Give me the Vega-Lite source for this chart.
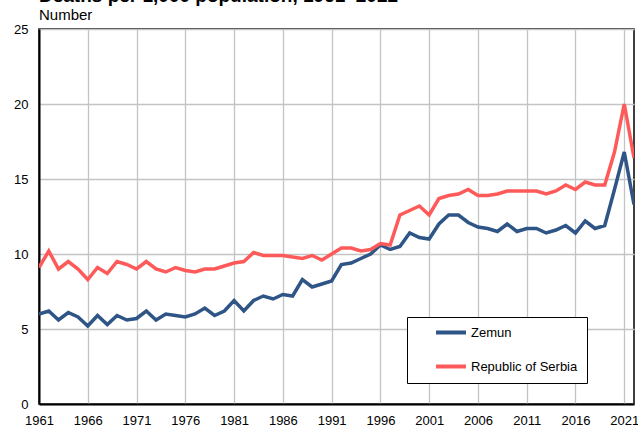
{
  "$schema": "https://vega.github.io/schema/vega-lite/v6.json",
  "width": 595,
  "height": 375,
  "autosize": {"type": "none"},
  "padding": {"left": 39, "top": 29, "right": 4, "bottom": 24},
  "title": {
    "text": "Deaths per 1,000 population, 1961–2022",
    "subtitle": "Number",
    "anchor": "start",
    "frame": "group",
    "offset": 0,
    "font": "Liberation Sans",
    "fontSize": 19,
    "fontWeight": "bold",
    "color": "#000000",
    "subtitleFont": "Liberation Sans",
    "subtitleFontSize": 15,
    "subtitleColor": "#000000",
    "subtitlePadding": 2
  },
  "config": {
    "font": "Liberation Sans",
    "view": {"stroke": "#000000", "strokeWidth": 1.5},
    "axis": {
      "labelFont": "Liberation Sans",
      "labelFontSize": 13,
      "labelColor": "#000000",
      "gridColor": "#c4c4c4",
      "gridWidth": 1.3,
      "gridOpacity": 1,
      "ticks": false,
      "domainColor": "#000000",
      "domainWidth": 2
    }
  },
  "data": {
    "values": [
      {"year": 1961, "series": "Zemun", "value": 6.0},
      {"year": 1962, "series": "Zemun", "value": 6.2},
      {"year": 1963, "series": "Zemun", "value": 5.6},
      {"year": 1964, "series": "Zemun", "value": 6.1},
      {"year": 1965, "series": "Zemun", "value": 5.8},
      {"year": 1966, "series": "Zemun", "value": 5.2},
      {"year": 1967, "series": "Zemun", "value": 5.9},
      {"year": 1968, "series": "Zemun", "value": 5.3},
      {"year": 1969, "series": "Zemun", "value": 5.9},
      {"year": 1970, "series": "Zemun", "value": 5.6},
      {"year": 1971, "series": "Zemun", "value": 5.7},
      {"year": 1972, "series": "Zemun", "value": 6.2},
      {"year": 1973, "series": "Zemun", "value": 5.6},
      {"year": 1974, "series": "Zemun", "value": 6.0},
      {"year": 1975, "series": "Zemun", "value": 5.9},
      {"year": 1976, "series": "Zemun", "value": 5.8},
      {"year": 1977, "series": "Zemun", "value": 6.0},
      {"year": 1978, "series": "Zemun", "value": 6.4},
      {"year": 1979, "series": "Zemun", "value": 5.9},
      {"year": 1980, "series": "Zemun", "value": 6.2},
      {"year": 1981, "series": "Zemun", "value": 6.9},
      {"year": 1982, "series": "Zemun", "value": 6.2},
      {"year": 1983, "series": "Zemun", "value": 6.9},
      {"year": 1984, "series": "Zemun", "value": 7.2},
      {"year": 1985, "series": "Zemun", "value": 7.0},
      {"year": 1986, "series": "Zemun", "value": 7.3},
      {"year": 1987, "series": "Zemun", "value": 7.2},
      {"year": 1988, "series": "Zemun", "value": 8.3},
      {"year": 1989, "series": "Zemun", "value": 7.8},
      {"year": 1990, "series": "Zemun", "value": 8.0},
      {"year": 1991, "series": "Zemun", "value": 8.2},
      {"year": 1992, "series": "Zemun", "value": 9.3},
      {"year": 1993, "series": "Zemun", "value": 9.4},
      {"year": 1994, "series": "Zemun", "value": 9.7},
      {"year": 1995, "series": "Zemun", "value": 10.0},
      {"year": 1996, "series": "Zemun", "value": 10.6},
      {"year": 1997, "series": "Zemun", "value": 10.3},
      {"year": 1998, "series": "Zemun", "value": 10.5},
      {"year": 1999, "series": "Zemun", "value": 11.4},
      {"year": 2000, "series": "Zemun", "value": 11.1},
      {"year": 2001, "series": "Zemun", "value": 11.0},
      {"year": 2002, "series": "Zemun", "value": 12.0},
      {"year": 2003, "series": "Zemun", "value": 12.6},
      {"year": 2004, "series": "Zemun", "value": 12.6},
      {"year": 2005, "series": "Zemun", "value": 12.1},
      {"year": 2006, "series": "Zemun", "value": 11.8},
      {"year": 2007, "series": "Zemun", "value": 11.7},
      {"year": 2008, "series": "Zemun", "value": 11.5},
      {"year": 2009, "series": "Zemun", "value": 12.0},
      {"year": 2010, "series": "Zemun", "value": 11.5},
      {"year": 2011, "series": "Zemun", "value": 11.7},
      {"year": 2012, "series": "Zemun", "value": 11.7},
      {"year": 2013, "series": "Zemun", "value": 11.4},
      {"year": 2014, "series": "Zemun", "value": 11.6},
      {"year": 2015, "series": "Zemun", "value": 11.9},
      {"year": 2016, "series": "Zemun", "value": 11.4},
      {"year": 2017, "series": "Zemun", "value": 12.2},
      {"year": 2018, "series": "Zemun", "value": 11.7},
      {"year": 2019, "series": "Zemun", "value": 11.9},
      {"year": 2020, "series": "Zemun", "value": 14.3},
      {"year": 2021, "series": "Zemun", "value": 16.8},
      {"year": 2022, "series": "Zemun", "value": 13.3},
      {"year": 1961, "series": "Republic of Serbia", "value": 9.1},
      {"year": 1962, "series": "Republic of Serbia", "value": 10.2},
      {"year": 1963, "series": "Republic of Serbia", "value": 9.0},
      {"year": 1964, "series": "Republic of Serbia", "value": 9.5},
      {"year": 1965, "series": "Republic of Serbia", "value": 9.0},
      {"year": 1966, "series": "Republic of Serbia", "value": 8.3},
      {"year": 1967, "series": "Republic of Serbia", "value": 9.1},
      {"year": 1968, "series": "Republic of Serbia", "value": 8.7},
      {"year": 1969, "series": "Republic of Serbia", "value": 9.5},
      {"year": 1970, "series": "Republic of Serbia", "value": 9.3},
      {"year": 1971, "series": "Republic of Serbia", "value": 9.0},
      {"year": 1972, "series": "Republic of Serbia", "value": 9.5},
      {"year": 1973, "series": "Republic of Serbia", "value": 9.0},
      {"year": 1974, "series": "Republic of Serbia", "value": 8.8},
      {"year": 1975, "series": "Republic of Serbia", "value": 9.1},
      {"year": 1976, "series": "Republic of Serbia", "value": 8.9},
      {"year": 1977, "series": "Republic of Serbia", "value": 8.8},
      {"year": 1978, "series": "Republic of Serbia", "value": 9.0},
      {"year": 1979, "series": "Republic of Serbia", "value": 9.0},
      {"year": 1980, "series": "Republic of Serbia", "value": 9.2},
      {"year": 1981, "series": "Republic of Serbia", "value": 9.4},
      {"year": 1982, "series": "Republic of Serbia", "value": 9.5},
      {"year": 1983, "series": "Republic of Serbia", "value": 10.1},
      {"year": 1984, "series": "Republic of Serbia", "value": 9.9},
      {"year": 1985, "series": "Republic of Serbia", "value": 9.9},
      {"year": 1986, "series": "Republic of Serbia", "value": 9.9},
      {"year": 1987, "series": "Republic of Serbia", "value": 9.8},
      {"year": 1988, "series": "Republic of Serbia", "value": 9.7},
      {"year": 1989, "series": "Republic of Serbia", "value": 9.9},
      {"year": 1990, "series": "Republic of Serbia", "value": 9.6},
      {"year": 1991, "series": "Republic of Serbia", "value": 10.0},
      {"year": 1992, "series": "Republic of Serbia", "value": 10.4},
      {"year": 1993, "series": "Republic of Serbia", "value": 10.4},
      {"year": 1994, "series": "Republic of Serbia", "value": 10.2},
      {"year": 1995, "series": "Republic of Serbia", "value": 10.3},
      {"year": 1996, "series": "Republic of Serbia", "value": 10.7},
      {"year": 1997, "series": "Republic of Serbia", "value": 10.6},
      {"year": 1998, "series": "Republic of Serbia", "value": 12.6},
      {"year": 1999, "series": "Republic of Serbia", "value": 12.9},
      {"year": 2000, "series": "Republic of Serbia", "value": 13.2},
      {"year": 2001, "series": "Republic of Serbia", "value": 12.6},
      {"year": 2002, "series": "Republic of Serbia", "value": 13.7},
      {"year": 2003, "series": "Republic of Serbia", "value": 13.9},
      {"year": 2004, "series": "Republic of Serbia", "value": 14.0},
      {"year": 2005, "series": "Republic of Serbia", "value": 14.3},
      {"year": 2006, "series": "Republic of Serbia", "value": 13.9},
      {"year": 2007, "series": "Republic of Serbia", "value": 13.9},
      {"year": 2008, "series": "Republic of Serbia", "value": 14.0},
      {"year": 2009, "series": "Republic of Serbia", "value": 14.2},
      {"year": 2010, "series": "Republic of Serbia", "value": 14.2},
      {"year": 2011, "series": "Republic of Serbia", "value": 14.2},
      {"year": 2012, "series": "Republic of Serbia", "value": 14.2},
      {"year": 2013, "series": "Republic of Serbia", "value": 14.0},
      {"year": 2014, "series": "Republic of Serbia", "value": 14.2},
      {"year": 2015, "series": "Republic of Serbia", "value": 14.6},
      {"year": 2016, "series": "Republic of Serbia", "value": 14.3},
      {"year": 2017, "series": "Republic of Serbia", "value": 14.8},
      {"year": 2018, "series": "Republic of Serbia", "value": 14.6},
      {"year": 2019, "series": "Republic of Serbia", "value": 14.6},
      {"year": 2020, "series": "Republic of Serbia", "value": 16.8},
      {"year": 2021, "series": "Republic of Serbia", "value": 20.0},
      {"year": 2022, "series": "Republic of Serbia", "value": 16.4}
    ]
  },
  "mark": {"type": "line", "strokeWidth": 3.5, "strokeJoin": "miter", "clip": true},
  "encoding": {
    "x": {
      "field": "year",
      "type": "quantitative",
      "scale": {"domain": [1961, 2022], "nice": false, "zero": false},
      "axis": {
        "title": null,
        "values": [1961, 1966, 1971, 1976, 1981, 1986, 1991, 1996, 2001, 2006, 2011, 2016, 2021],
        "format": "d",
        "labelPadding": 10,
        "labelFlush": false,
        "labelOverlap": false
      }
    },
    "y": {
      "field": "value",
      "type": "quantitative",
      "scale": {"domain": [0, 25], "nice": false},
      "axis": {
        "title": null,
        "values": [0, 5, 10, 15, 20, 25],
        "labelPadding": 11,
        "labelBaseline": "middle"
      }
    },
    "color": {
      "field": "series",
      "type": "nominal",
      "sort": ["Zemun", "Republic of Serbia"],
      "scale": {"domain": ["Zemun", "Republic of Serbia"], "range": ["#2E5586", "#FF5A5A"]},
      "legend": {
        "title": null,
        "orient": "none",
        "legendX": 368,
        "legendY": 288,
        "direction": "vertical",
        "strokeColor": "#000000",
        "fillColor": "#ffffff",
        "padding": 9,
        "clipHeight": 13,
        "symbolType": "stroke",
        "symbolSize": 900,
        "symbolStrokeWidth": 4,
        "symbolOffset": 18,
        "labelFont": "Liberation Sans",
        "labelFontSize": 13,
        "labelColor": "#000000",
        "labelOffset": 3,
        "rowPadding": 20
      }
    }
  }
}
